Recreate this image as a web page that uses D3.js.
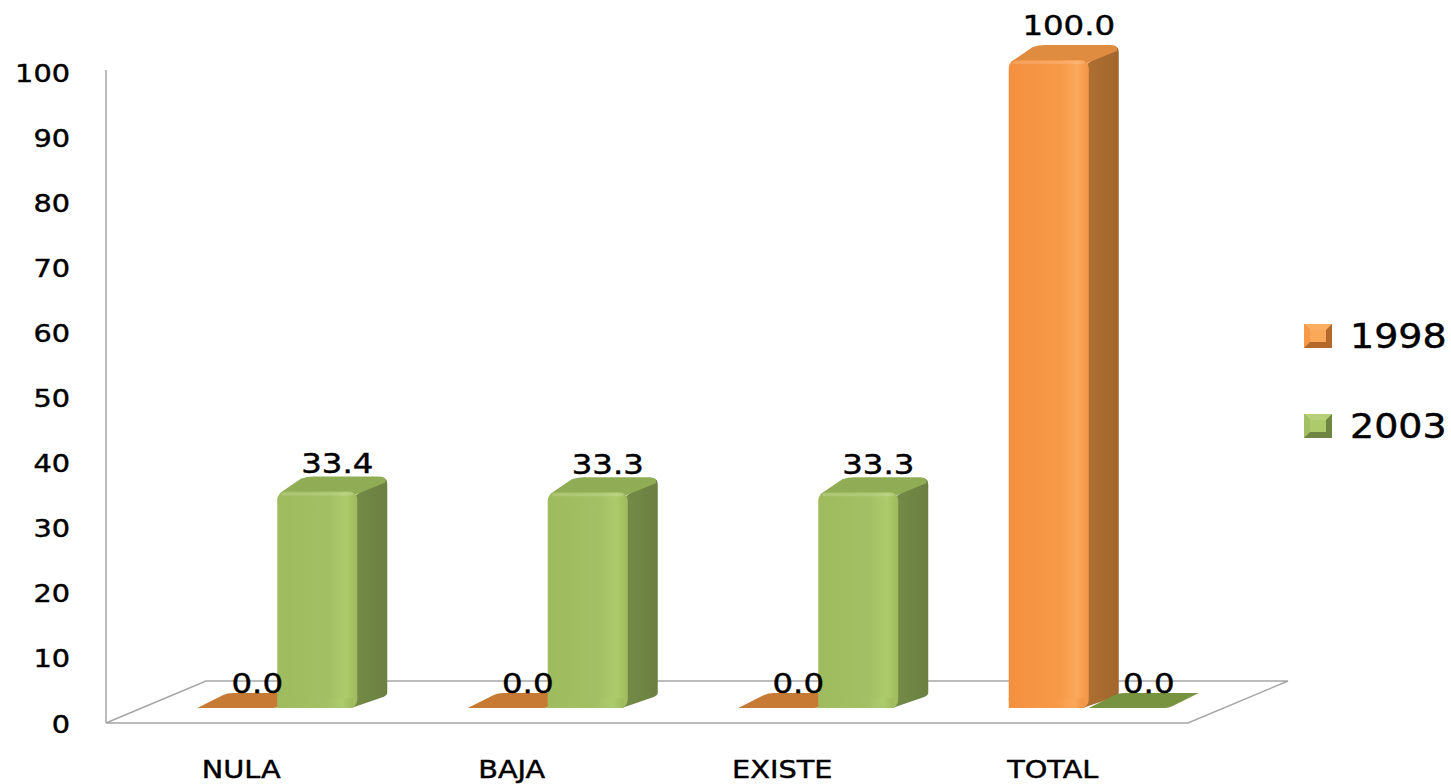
<!DOCTYPE html>
<html>
<head>
<meta charset="utf-8">
<script src="https://cdn.jsdelivr.net/npm/d3@7"></script>
<style>
  html, body { margin: 0; padding: 0; background: #fff; }
  svg { display: block; font-family: "DejaVu Sans", Verdana, sans-serif; }
  text { stroke: #000; stroke-width: 0.45px; }
</style>
</head>
<body>
<svg id="chart" width="1451" height="784"></svg>
<script>
// ---- data ----
const categories = ["NULA", "BAJA", "EXISTE", "TOTAL"];
const seriesNames = ["1998", "2003"];
const values1998 = [0.0, 0.0, 0.0, 100.0];
const values2003 = [33.4, 33.3, 33.3, 0.0];
const yTicks = [0, 10, 20, 30, 40, 50, 60, 70, 80, 90, 100];

const seriesValues = [values1998, values2003];
const colors = {
  "1998": { front: ["#F3903F", "#F79A48", "#FAA85A", "#F39446"], top: "#E08C40", side: "#A86A2E", flat: "#C67A33", legDark: "#B4682A", legLight: "#FBAE62" },
  "2003": { front: ["#9EBB5D", "#A3C164", "#AECB6C", "#9EBA5C"], top: "#90AD55", side: "#6F8543", flat: "#789340", legDark: "#6F8543", legLight: "#B7D178" }
};

const svg = d3.select("#chart");
const defs = svg.append("defs");

// ---- geometry ----
const floorLeft = 106, floorRight = 1188, floorFront = 723;
const depthDx = 100, depthDy = -42;
const barDx = 30, barDy = -15;

const xFloor = d3.scaleBand(categories, [floorLeft, floorRight]);
const xBar = d3.scaleBand(categories, [floorLeft + 36, floorRight + 36])
  .paddingInner(0.4085).paddingOuter(0.20425);
const xSeries = d3.scaleBand(seriesNames, [0, xBar.bandwidth()]);
const yAxisScale = d3.scaleLinear([0, 100], [floorFront, 72]);
const yBar = d3.scaleLinear([0, 100], [708, 60]);
const yLabel = d3.scaleLinear([0, 100], [693, 35]);

// gradients
seriesNames.forEach(s => {
  const g = defs.append("linearGradient").attr("id", "grad" + s)
    .attr("x1", "0%").attr("x2", "100%").attr("y1", "0%").attr("y2", "0%");
  const c = colors[s].front;
  [[0, c[0]], [0.65, c[1]], [0.86, c[2]], [1, c[3]]].forEach(([o, col]) =>
    g.append("stop").attr("offset", o).attr("stop-color", col));
  const gs = defs.append("linearGradient").attr("id", "side" + s)
    .attr("x1", "0%").attr("x2", "100%");
  gs.append("stop").attr("offset", 0).attr("stop-color", d3.color(colors[s].side).brighter(0.15));
  gs.append("stop").attr("offset", 1).attr("stop-color", d3.color(colors[s].side).darker(0.1));
});

// ---- floor ----
svg.append("path")
  .attr("d", `M${floorLeft},${floorFront} L${floorRight},${floorFront} L${floorRight + depthDx},${floorFront + depthDy} L${floorLeft + depthDx},${floorFront + depthDy} Z`)
  .attr("fill", "none").attr("stroke", "#a6a6a6").attr("stroke-width", 1.5);

// ---- y axis ----
const yAxis = svg.append("g").attr("transform", `translate(${floorLeft},0)`)
  .call(d3.axisLeft(yAxisScale).tickValues(yTicks).tickSize(0).tickFormat(d3.format("d")));
yAxis.select(".domain").attr("stroke", "#a6a6a6").attr("stroke-width", 1.5)
  .attr("d", `M0,70 V${floorFront}`);
yAxis.selectAll(".tick text")
  .attr("x", 0).attr("dy", "0.36em")
  .attr("transform", "translate(-36,0) scale(1.15,1)")
  .attr("font-size", 25).attr("fill", "#000")
  .style("font-family", '"DejaVu Sans", Verdana, sans-serif');

// ---- bars ----
const barsG = svg.append("g");
categories.forEach((cat, i) => {
  seriesNames.forEach((s, j) => {
    const v = seriesValues[j][i];
    const x0 = xBar(cat) + xSeries(s);
    const x1 = x0 + xSeries.bandwidth();
    const yb = yBar(0);
    const yt = yBar(v);
    const g = barsG.append("g");
    if (v === 0) {
      g.append("path")
        .attr("d", `M${x0},${yb} L${x1 - 4},${yb} Q${x1},${yb} ${x1 + 4},${yb - 2} L${x1 + barDx},${yb + barDy} L${x0 + barDx + 6},${yb + barDy} Q${x0 + barDx},${yb + barDy} ${x0 + barDx - 4},${yb + barDy + 2} Z`)
        .attr("fill", colors[s].flat);
    } else {
      // side
      g.append("path")
        .attr("d", `M${x1 - 2},${yt + 4} L${x1 + barDx - 6},${yt + barDy + 2} Q${x1 + barDx},${yt + barDy} ${x1 + barDx},${yt + barDy + 8} L${x1 + barDx},${yb + barDy} Q${x1 + barDx},${yb + barDy + 2} ${x1 + barDx - 4},${yb + barDy + 4} L${x1 - 6},${yb} Z`)
        .attr("fill", `url(#side${s})`);
      // top
      g.append("path")
        .attr("d", `M${x0 + 2},${yt + 2} L${x0 + barDx - 6},${yt + barDy + 2} Q${x0 + barDx},${yt + barDy} ${x0 + barDx + 6},${yt + barDy} L${x1 + barDx - 8},${yt + barDy} Q${x1 + barDx},${yt + barDy} ${x1 + barDx - 2},${yt + barDy + 6} L${x1 - 4},${yt + 4} Z`)
        .attr("fill", colors[s].top);
      // front
      g.append("rect")
        .attr("x", x0).attr("y", yt)
        .attr("width", x1 - x0).attr("height", yb - yt)
        .attr("rx", 8).attr("ry", 8)
        .attr("fill", `url(#grad${s})`);
      // square off the bottom corners
      g.append("rect")
        .attr("x", x0).attr("y", yb - 10)
        .attr("width", x1 - x0 - 4).attr("height", 10)
        .attr("fill", `url(#grad${s})`);
      // highlight on top edge
      g.append("rect")
        .attr("x", x0 + 4).attr("y", yt + 1)
        .attr("width", x1 - x0 - 8).attr("height", 3).attr("rx", 1.5)
        .attr("fill", "#ffffff").attr("opacity", 0.15);
    }
  });
});

// ---- data labels ----
categories.forEach((cat, i) => {
  seriesNames.forEach((s, j) => {
    const v = seriesValues[j][i];
    const cx = xBar(cat) + xSeries(s) + xSeries.bandwidth() / 2 + 20;
    svg.append("text")
      .attr("transform", `translate(${cx},${yLabel(v)}) scale(1.2,1)`)
      .attr("text-anchor", "middle")
      .attr("font-size", 27).attr("fill", "#000")
      .text(d3.format(".1f")(v));
  });
});

// ---- category labels ----
categories.forEach(cat => {
  svg.append("text")
    .attr("transform", `translate(${xFloor(cat) + xFloor.bandwidth() / 2},778) scale(1.15,1)`)
    .attr("text-anchor", "middle")
    .attr("font-size", 25).attr("fill", "#000")
    .text(cat);
});

// ---- legend ----
const legendY = d3.scalePoint(seriesNames, [336, 426]);
seriesNames.forEach(s => {
  const y = legendY(s);
  const lg = svg.append("g").attr("transform", `translate(1304,${y - 12})`);
  lg.append("rect").attr("width", 28).attr("height", 24).attr("fill", colors[s].legDark);
  lg.append("path").attr("d", "M0,0 L28,0 L22,6 L6,6 Z").attr("fill", colors[s].legLight);
  lg.append("path").attr("d", "M0,0 L6,6 L6,18 L0,24 Z").attr("fill", d3.color(colors[s].front[1]));
  lg.append("rect").attr("x", 6).attr("y", 6).attr("width", 16).attr("height", 12).attr("fill", colors[s].front[2]);
  svg.append("text")
    .attr("transform", `translate(1350,${y + 12}) scale(1.15,1)`)
    .attr("font-size", 33).attr("fill", "#000")
    .text(s);
});
</script>
</body>
</html>
